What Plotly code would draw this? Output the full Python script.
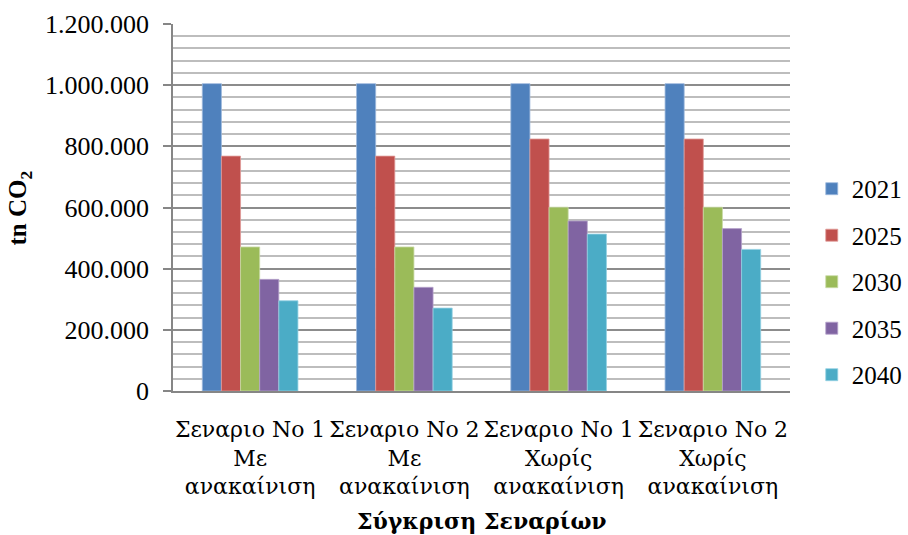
import plotly.graph_objects as go

# Scenario categories (three-line tick labels)
categories = [
    "Σεναριο Νο 1<br>Με<br>ανακαίνιση",
    "Σεναριο Νο 2<br>Με<br>ανακαίνιση",
    "Σεναριο Νο 1<br>Χωρίς<br>ανακαίνιση",
    "Σεναριο Νο 2<br>Χωρίς<br>ανακαίνιση",
]

# Emissions (tn CO2) per target year
years = ["2021", "2025", "2030", "2035", "2040"]
v2021 = [1005000, 1005000, 1005000, 1005000]
v2025 = [768000, 768000, 824000, 824000]
v2030 = [471000, 471000, 601000, 601000]
v2035 = [365000, 339000, 556000, 531000]
v2040 = [295000, 271000, 513000, 463000]
series = [v2021, v2025, v2030, v2035, v2040]

colors = ["#4F81BD", "#C0504D", "#9BBB59", "#8064A2", "#4BACC6"]
edges = ["#9DB9DD", "#E09A98", "#C9DBA6", "#B6A3CC", "#93D1E2"]

y_ticks = [0, 200000, 400000, 600000, 800000, 1000000, 1200000]

FONT = "Liberation Serif, serif"
GREEK_FONT = "DejaVu Serif"

fig = go.Figure()
for name, vals, c, e in zip(years, series, colors, edges):
    fig.add_trace(go.Bar(
        x=categories, y=vals, name=name, legendgroup=name,
        marker=dict(color=c, line=dict(color=e, width=0.8)),
    ))

fig.update_layout(
    width=908, height=535,
    margin=dict(l=173, r=118, t=24, b=144),
    paper_bgcolor="white", plot_bgcolor="white",
    barmode="group", bargap=0.38, bargroupgap=0,
    separators=",.",
    font=dict(family=FONT, size=26, color="#000000"),
    showlegend=True,
    legend=dict(
        xref="container", yref="container",
        x=0.894, xanchor="left", y=0.473, yanchor="middle",
        font=dict(family=FONT, size=25),
        tracegroupgap=11, itemwidth=30,
        bgcolor="rgba(0,0,0,0)",
    ),
    annotations=[
        dict(text="<b>tn CO<sub>2</sub></b>", xref="paper", yref="paper",
             x=-0.248, y=0.5, textangle=-90, showarrow=False,
             xanchor="center", yanchor="middle",
             font=dict(family=FONT, size=25)),
        dict(text="<b>Σύγκριση Σεναρίων</b>", xref="paper", yref="paper",
             x=0.5, y=-0.355, showarrow=False,
             xanchor="center", yanchor="middle",
             font=dict(family=GREEK_FONT, size=22)),
    ],
)

fig.update_yaxes(
    range=[0, 1200000],
    tickvals=y_ticks,
    tickformat=",d",
    automargin=False,
    ticks="outside", ticklen=8, tickcolor="#868686", tickwidth=1.5,
    ticklabelstandoff=9,
    showline=True, linecolor="#868686", linewidth=1.5,
    showgrid=True, gridcolor="#8C8C8C", gridwidth=1.5,
    minor=dict(dtick=40000, showgrid=True, gridcolor="#BDBDBD", gridwidth=1.5),
    zeroline=False,
    tickfont=dict(family=FONT, size=26),
)

fig.update_xaxes(
    automargin=False,
    showline=True, linecolor="#868686", linewidth=1.5,
    ticks="", showgrid=False,
    ticklabelstandoff=18,
    tickfont=dict(family=GREEK_FONT, size=22),
)

fig.write_html("out.html")
